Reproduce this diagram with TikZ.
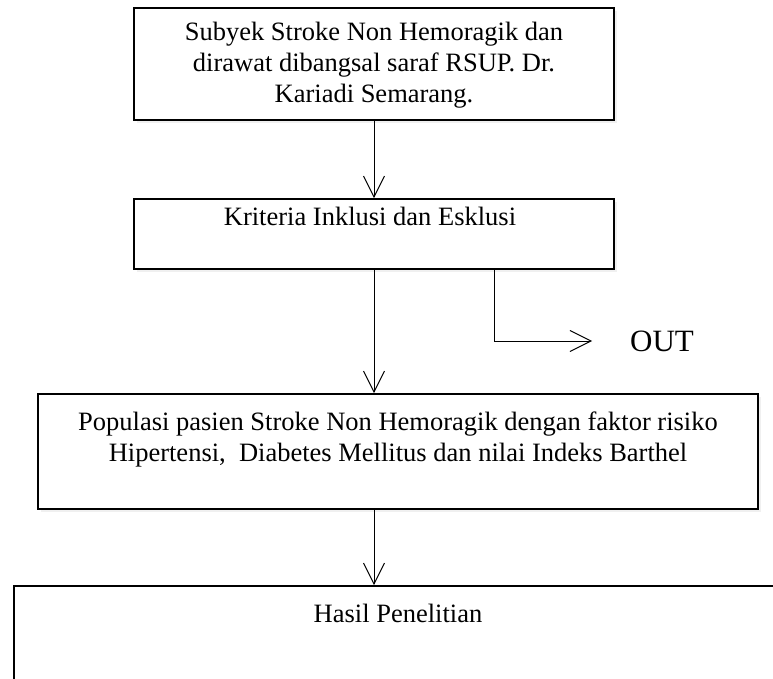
\documentclass[tikz,border=0pt]{standalone}
\usepackage{fontspec}
\setmainfont{Liberation Serif}
\usetikzlibrary{arrows.meta,shadows}
\begin{document}
\begin{tikzpicture}[x=1pt,y=-1pt,
kotak/.style={draw,line width=1.6pt,fill=white,inner sep=0pt,
  drop shadow={opacity=0.12,shadow xshift=3pt,shadow yshift=-3pt}},
teks/.style={inner sep=0pt,align=center,font=\fontsize{26.5}{31}\selectfont},
panah/.style={-{Straight Barb[length=21pt,width=21pt]},line width=1pt}]

\clip (0,0) rectangle (773,679);

% kotak
\node[kotak,minimum width=480pt,minimum height=112pt]
(B1)
at (374,64)
{};

\node[kotak,minimum width=480pt,minimum height=70pt]
(B2)
at (374,234)
{};

\node[kotak,minimum width=720pt,minimum height=115pt]
(B3)
at (398,451.5)
{};

\node[kotak,minimum width=786pt,minimum height=134pt]
(B4)
at (407,653)
{};

% teks
\node[teks]
(T1)
at (374,65)
{Subyek Stroke Non Hemoragik dan\\
dirawat dibangsal saraf RSUP. Dr.\\
Kariadi Semarang.};

\node[teks]
(T2)
at (370,216)
{Kriteria Inklusi dan Esklusi};

\node[teks]
(T3)
at (398,439)
{Populasi pasien Stroke Non Hemoragik dengan faktor risiko\\
Hipertensi,\ \ Diabetes Mellitus dan nilai Indeks Barthel};

\node[teks]
(T4)
at (398,613)
{Hasil Penelitian};

\node[inner sep=0pt,font=\fontsize{31}{35}\selectfont]
(OUT)
at (662,341)
{OUT};

\coordinate (belok) at (494,341);
\coordinate (ujung) at (592,341);

% panah
\draw[panah] (B1.south) -- (B2.north);
\draw[panah] (B2.south) -- (B2.south |- B3.north);
\draw[panah] (B2.south |- B3.south) -- (B2.south |- B4.north);
\draw[panah] (belok |- B2.south) -- (belok) -- (ujung);

\end{tikzpicture}
\end{document}
